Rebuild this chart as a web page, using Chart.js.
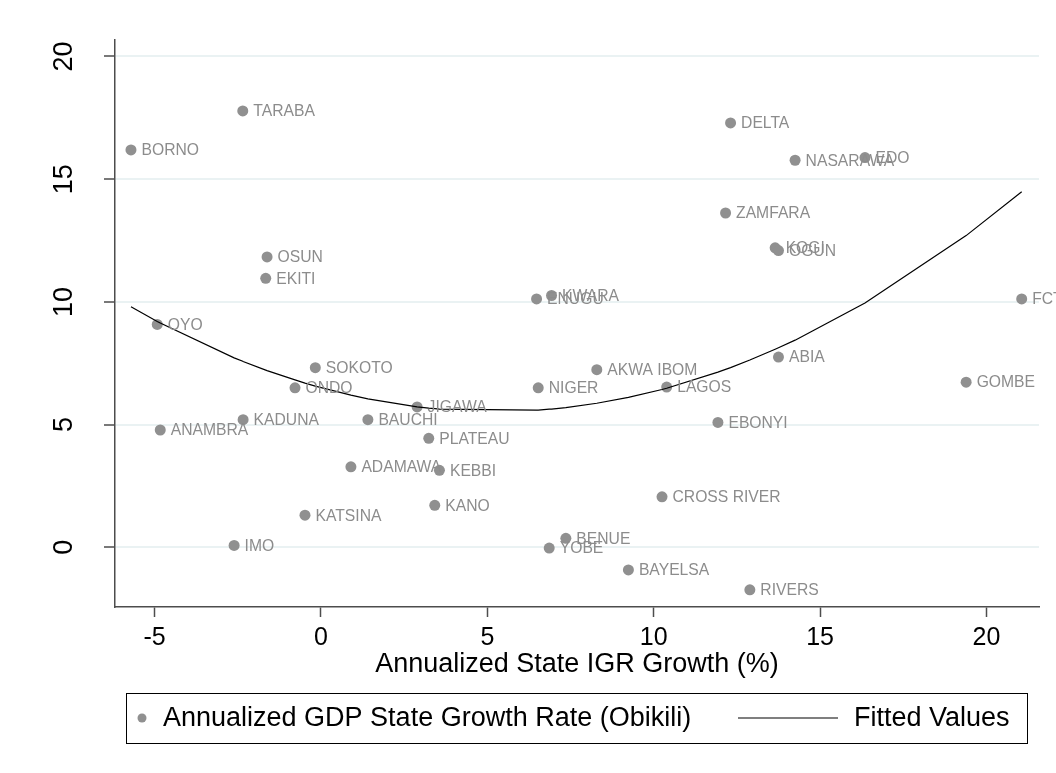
<!DOCTYPE html>
<html>
<head>
<meta charset="utf-8">
<script src="https://cdn.jsdelivr.net/npm/chart.js@4.4.0/dist/chart.umd.min.js"></script>
<style>
  body { margin: 0; background: #fff; }
  canvas { display: block; }
</style>
</head>
<body>
<canvas id="igrChart" width="1056" height="773"></canvas>
<script>
// state names, IGR growth (x) and GDP growth (y)
var states = ['BORNO', 'OYO', 'ANAMBRA', 'IMO', 'TARABA', 'KADUNA', 'EKITI', 'OSUN', 'ONDO', 'KATSINA',
    'SOKOTO', 'ADAMAWA', 'BAUCHI', 'JIGAWA', 'PLATEAU', 'KANO', 'KEBBI', 'ENUGU', 'NIGER', 'YOBE',
    'KWARA', 'BENUE', 'AKWA IBOM', 'BAYELSA', 'CROSS RIVER', 'LAGOS', 'EBONYI', 'ZAMFARA', 'DELTA', 'RIVERS',
    'KOGI', 'ABIA', 'OGUN', 'NASARAWA', 'EDO', 'GOMBE', 'FCT'];
var igrGrowth = [-5.71, -4.92, -4.83, -2.61, -2.35, -2.34, -1.66, -1.62, -0.78, -0.48,
    -0.17, 0.90, 1.41, 2.89, 3.24, 3.42, 3.56, 6.48, 6.53, 6.86,
    6.93, 7.36, 8.29, 9.24, 10.25, 10.39, 11.93, 12.16, 12.31, 12.89,
    13.65, 13.75, 13.75, 14.25, 16.35, 19.39, 21.06];
var gdpGrowth = [16.19, 9.08, 4.78, 0.08, 17.78, 5.20, 10.96, 11.83, 6.50, 1.31,
    7.32, 3.28, 5.20, 5.72, 4.44, 1.71, 3.14, 10.12, 6.50, -0.03,
    10.26, 0.37, 7.24, -0.92, 2.06, 6.53, 5.09, 13.62, 17.29, -1.73,
    12.20, 7.75, 12.09, 15.77, 15.88, 6.73, 10.12];

// fitted line, one value per data x (sorted)
var fitY = [9.80, 9.20, 9.14, 7.72, 7.58, 7.57, 7.22, 7.20, 6.82, 6.69,
    6.57, 6.20, 6.05, 5.72, 5.67, 5.65, 5.63, 5.59, 5.59, 5.63,
    5.63, 5.69, 5.87, 6.11, 6.43, 6.48, 7.14, 7.25, 7.32, 7.63,
    8.07, 8.13, 8.13, 8.44, 9.95, 12.70, 14.49];

var xTicks = [-5, 0, 5, 10, 15, 20];
var yTicks = [0, 5, 10, 15, 20];

var FONT = '"Liberation Sans", Arial, sans-serif';
Chart.defaults.font.family = FONT;
Chart.defaults.color = '#000';

var scatterPts = igrGrowth.map(function(x, i) { return {x: x, y: gdpGrowth[i]}; });
var fitPts = igrGrowth.map(function(x, i) { return {x: x, y: fitY[i]}; });

// state names to the right of each marker
var pointLabels = {
    id: 'pointLabels',
    afterDatasetsDraw: function(chart) {
        var ctx = chart.ctx;
        var meta = chart.getDatasetMeta(0);
        ctx.save();
        ctx.font = '15.7px ' + FONT;
        ctx.fillStyle = '#8c8c8c';
        ctx.textBaseline = 'middle';
        ctx.textAlign = 'left';
        meta.data.forEach(function(pt, i) {
            ctx.fillText(states[i], pt.x + 10.5, pt.y + 1);
        });
        ctx.restore();
    }
};

// boxed legend under the axis title
var boxLegend = {
    id: 'boxLegend',
    afterDraw: function(chart) {
        var ctx = chart.ctx;
        var ds = chart.data.datasets;
        var top = 693, bottom = 743, left = 126, right = 1027;
        var cy = (top + bottom) / 2 + 1;
        ctx.save();
        ctx.strokeStyle = '#000';
        ctx.lineWidth = 1;
        ctx.strokeRect(left + 0.5, top + 0.5, right - left, bottom - top);

        ctx.fillStyle = '#909090';
        ctx.beginPath();
        ctx.arc(142, cy - 1, 4.5, 0, Math.PI * 2);
        ctx.fill();

        ctx.font = '27px ' + FONT;
        ctx.fillStyle = '#000';
        ctx.textBaseline = 'middle';
        ctx.fillText(ds[0].label, 163, cy);

        ctx.beginPath();
        ctx.moveTo(738, cy - 1);
        ctx.lineTo(838, cy - 1);
        ctx.lineWidth = 1.2;
        ctx.stroke();
        ctx.fillText(ds[1].label, 854, cy);
        ctx.restore();
    }
};

new Chart(document.getElementById('igrChart'), {
    type: 'scatter',
    data: {
        datasets: [{
            label: 'Annualized GDP State Growth Rate (Obikili)',
            data: scatterPts,
            backgroundColor: '#909090',
            borderWidth: 0,
            pointRadius: 5.5,
            pointHoverRadius: 5.5,
            order: 2
        }, {
            label: 'Fitted Values',
            type: 'line',
            data: fitPts,
            borderColor: '#000',
            borderWidth: 1.2,
            pointRadius: 0,
            tension: 0,
            fill: false,
            order: 1
        }]
    },
    options: {
        responsive: false,
        animation: false,
        events: [],
        layout: { padding: { left: 0, right: 17, top: 39, bottom: 86 } },
        plugins: {
            legend: { display: false },
            tooltip: { enabled: false }
        },
        scales: {
            x: {
                type: 'linear',
                min: -6.19,
                max: 21.58,
                afterBuildTicks: function(scale) {
                    scale.ticks = xTicks.map(function(v) { return {value: v}; });
                },
                afterFit: function(scale) { scale.height = 80; },
                grid: {
                    drawOnChartArea: false,
                    drawTicks: true,
                    tickLength: 10,
                    tickColor: '#4d4d4d',
                    tickWidth: 1.5
                },
                border: { display: true, color: '#4d4d4d', width: 1.5 },
                ticks: {
                    font: { size: 25 },
                    color: '#000',
                    padding: 6,
                    maxRotation: 0,
                    autoSkip: false
                },
                title: {
                    display: true,
                    text: 'Annualized State IGR Growth (%)',
                    font: { size: 27 },
                    color: '#000',
                    padding: { top: 0, bottom: 6 }
                }
            },
            y: {
                type: 'linear',
                min: -2.43,
                max: 20.66,
                afterBuildTicks: function(scale) {
                    scale.ticks = yTicks.map(function(v) { return {value: v}; });
                },
                afterFit: function(scale) { scale.width = 115; },
                grid: {
                    color: '#eaf2f3',
                    lineWidth: 2,
                    drawTicks: true,
                    tickLength: 11,
                    tickColor: '#4d4d4d',
                    tickWidth: 1.5
                },
                border: { display: true, color: '#4d4d4d', width: 1.5 },
                ticks: {
                    font: { size: 27 },
                    color: '#000',
                    minRotation: 90,
                    maxRotation: 90,
                    crossAlign: 'center',
                    padding: 24,
                    autoSkip: false
                }
            }
        }
    },
    plugins: [pointLabels, boxLegend]
});
</script>
</body>
</html>
